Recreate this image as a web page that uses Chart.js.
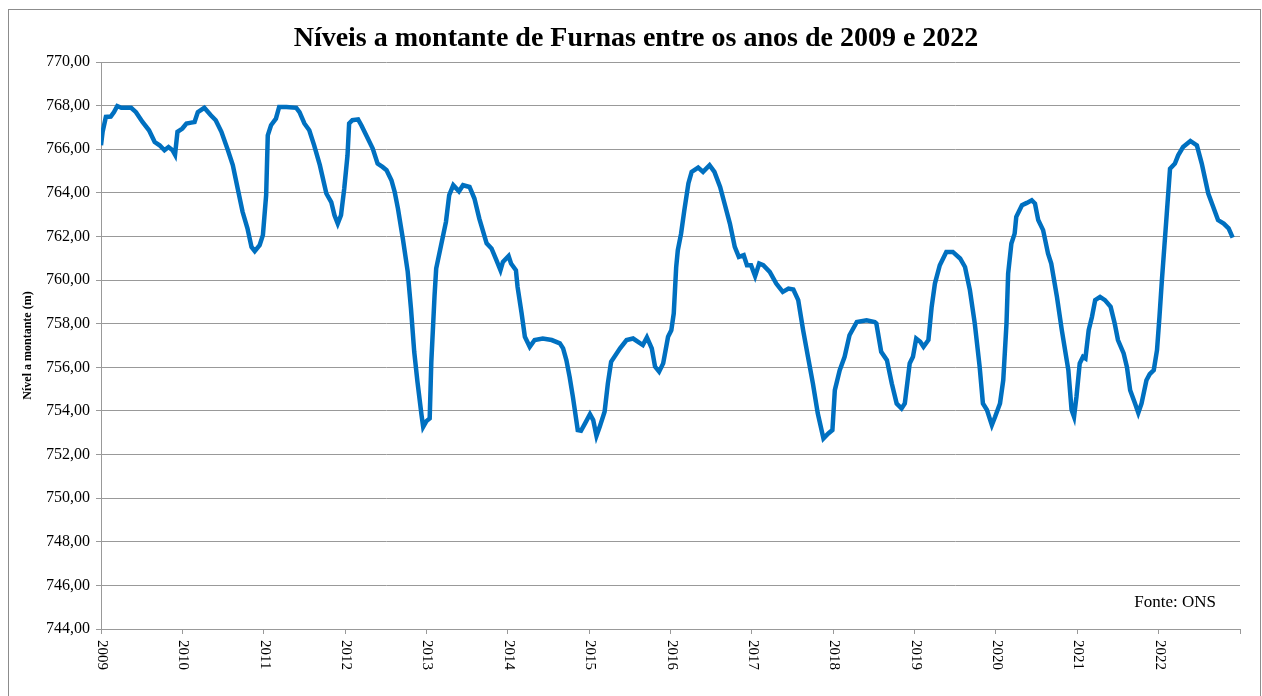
<!DOCTYPE html>
<html lang="pt">
<head>
    <meta charset="UTF-8">
    <title>Níveis a montante de Furnas</title>
    <script src="https://cdn.jsdelivr.net/npm/chart.js"></script>
    <style>
        body {
            margin: 0;
            padding: 0;
            background-color: #ffffff;
        }
        #caixa {
            width: 1262px;
            height: 696px;
        }
    </style>
</head>
<body>
    <div id="caixa"><canvas id="grafica"></canvas></div>

    <script>
        // Anos (decimais) e níveis
        const anos = [
            2009.00, 2009.02, 2009.06, 2009.12, 2009.16, 2009.20, 2009.25, 2009.37, 2009.43, 2009.51,
            2009.59, 2009.66, 2009.72, 2009.78, 2009.83, 2009.88, 2009.91, 2009.94, 2010.00, 2010.05,
            2010.11, 2010.15, 2010.19, 2010.27, 2010.35, 2010.41, 2010.48, 2010.56, 2010.62, 2010.68,
            2010.74, 2010.80, 2010.85, 2010.89, 2010.95, 2010.99, 2011.03, 2011.05, 2011.09, 2011.15,
            2011.19, 2011.28, 2011.40, 2011.44, 2011.50, 2011.56, 2011.62, 2011.69, 2011.77, 2011.83,
            2011.87, 2011.91, 2011.95, 2011.99, 2012.03, 2012.05, 2012.09, 2012.16, 2012.20, 2012.26,
            2012.34, 2012.40, 2012.46, 2012.51, 2012.57, 2012.61, 2012.65, 2012.71, 2012.77, 2012.81,
            2012.85, 2012.89, 2012.94, 2012.96, 2013.00, 2013.04, 2013.06, 2013.10, 2013.12, 2013.18,
            2013.24, 2013.28, 2013.33, 2013.40, 2013.45, 2013.53, 2013.59, 2013.65, 2013.74, 2013.80,
            2013.86, 2013.91, 2013.94, 2014.01, 2014.04, 2014.10, 2014.12, 2014.17, 2014.21, 2014.27,
            2014.33, 2014.43, 2014.54, 2014.64, 2014.68, 2014.72, 2014.76, 2014.80, 2014.86, 2014.90,
            2014.95, 2015.01, 2015.05, 2015.09, 2015.13, 2015.19, 2015.23, 2015.27, 2015.38, 2015.46,
            2015.54, 2015.66, 2015.71, 2015.77, 2015.81, 2015.86, 2015.91, 2015.97, 2016.01, 2016.04,
            2016.07, 2016.09, 2016.13, 2016.17, 2016.22, 2016.26, 2016.34, 2016.40, 2016.48, 2016.54,
            2016.61, 2016.67, 2016.73, 2016.79, 2016.84, 2016.90, 2016.94, 2016.99, 2017.04, 2017.09,
            2017.14, 2017.22, 2017.30, 2017.38, 2017.45, 2017.51, 2017.57, 2017.63, 2017.69, 2017.75,
            2017.81, 2017.88, 2017.94, 2017.99, 2018.02, 2018.08, 2018.14, 2018.20, 2018.29, 2018.41,
            2018.51, 2018.53, 2018.59, 2018.66, 2018.72, 2018.78, 2018.84, 2018.88, 2018.94, 2018.98,
            2019.02, 2019.07, 2019.11, 2019.17, 2019.21, 2019.25, 2019.31, 2019.39, 2019.47, 2019.56,
            2019.62, 2019.68, 2019.74, 2019.80, 2019.84, 2019.89, 2019.95, 2019.99, 2020.05, 2020.09,
            2020.13, 2020.15, 2020.19, 2020.23, 2020.25, 2020.32, 2020.38, 2020.44, 2020.48, 2020.52,
            2020.58, 2020.64, 2020.68, 2020.75, 2020.81, 2020.87, 2020.89, 2020.93, 2020.96, 2020.99,
            2021.03, 2021.07, 2021.10, 2021.14, 2021.18, 2021.22, 2021.28, 2021.34, 2021.41, 2021.46,
            2021.50, 2021.57, 2021.61, 2021.65, 2021.71, 2021.75, 2021.79, 2021.85, 2021.89, 2021.94,
            2021.98, 2022.01, 2022.04, 2022.07, 2022.10, 2022.14, 2022.20, 2022.24, 2022.30, 2022.39,
            2022.47, 2022.53, 2022.61, 2022.67, 2022.73, 2022.80, 2022.86, 2022.91
        ];

        const niveis = [
            766.18, 766.80, 767.48, 767.50, 767.70, 767.98, 767.90, 767.90, 767.70, 767.25,
            766.87, 766.33, 766.18, 765.95, 766.10, 765.95, 765.75, 766.80, 766.95, 767.18,
            767.22, 767.25, 767.70, 767.90, 767.56, 767.33, 766.80, 765.95, 765.27, 764.20,
            763.13, 762.37, 761.52, 761.33, 761.60, 762.06, 763.90, 766.64, 767.10, 767.40,
            767.94, 767.94, 767.90, 767.70, 767.18, 766.87, 766.18, 765.27, 763.97, 763.58,
            762.97, 762.59, 762.97, 764.20, 765.72, 767.18, 767.33, 767.37, 767.10, 766.64,
            766.03, 765.34, 765.19, 765.04, 764.58, 764.04, 763.28, 761.90, 760.38, 758.70,
            756.71, 755.33, 753.80, 753.27, 753.53, 753.66, 756.25, 759.30, 760.53, 761.60,
            762.67, 763.90, 764.35, 764.07, 764.35, 764.27, 763.74, 762.82, 761.68, 761.45,
            760.91, 760.45, 760.83, 761.10, 760.76, 760.45, 759.69, 758.47, 757.40, 756.94,
            757.25, 757.32, 757.25, 757.10, 756.87, 756.33, 755.56, 754.65, 753.12, 753.09,
            753.43, 753.85, 753.58, 752.85, 753.27, 753.96, 755.26, 756.25, 756.87, 757.25,
            757.32, 757.02, 757.37, 756.87, 756.03, 755.80, 756.18, 757.40, 757.70, 758.47,
            760.60, 761.37, 762.13, 763.20, 764.43, 764.96, 765.16, 764.96, 765.27, 764.96,
            764.27, 763.43, 762.59, 761.52, 761.06, 761.14, 760.68, 760.68, 760.18, 760.76,
            760.68, 760.38, 759.84, 759.46, 759.61, 759.57, 759.08, 757.70, 756.48, 755.26,
            753.89, 752.74, 752.97, 753.12, 754.95, 755.87, 756.48, 757.47, 758.08, 758.16,
            758.08, 758.01, 756.71, 756.33, 755.26, 754.34, 754.11, 754.34, 756.18, 756.48,
            757.32, 757.17, 756.94, 757.25, 758.77, 759.84, 760.68, 761.29, 761.29, 760.99,
            760.60, 759.54, 758.01, 756.02, 754.34, 754.04, 753.35, 753.73, 754.34, 755.41,
            758.01, 760.30, 761.68, 762.13, 762.90, 763.43, 763.54, 763.66, 763.51, 762.75,
            762.29, 761.22, 760.76, 759.23, 757.70, 756.33, 755.87, 754.04, 753.73, 754.65,
            756.18, 756.48, 756.41, 757.70, 758.31, 759.08, 759.23, 759.08, 758.77, 758.01,
            757.25, 756.64, 756.02, 754.95, 754.34, 753.91, 754.34, 755.41, 755.69, 755.87,
            756.79, 758.31, 760.00, 761.52, 763.05, 765.11, 765.34, 765.72, 766.10, 766.38,
            766.18, 765.34, 763.97, 763.36, 762.75, 762.59, 762.37, 761.95
        ];

        // Rótulos do eixo x
        const rotulosAnos = [2009, 2010, 2011, 2012, 2013, 2014, 2015, 2016, 2017, 2018, 2019, 2020, 2021, 2022];

        const fonte = 'Liberation Serif, Times New Roman, serif';
        const cinza = '#999999';

        // Moldura, rótulos verticais dos anos e nota da fonte
        const extras = {
            id: 'extras',
            beforeDraw(chart) {
                const ctx = chart.ctx;
                ctx.save();
                ctx.fillStyle = '#ffffff';
                ctx.fillRect(0, 0, chart.width, chart.height);
                ctx.strokeStyle = '#8c8c8c';
                ctx.lineWidth = 1;
                ctx.strokeRect(8.5, 9.5, 1252, 700);
                ctx.restore();
            },
            afterDraw(chart) {
                const ctx = chart.ctx;
                const eixoX = chart.scales.x;
                const area = chart.chartArea;
                ctx.save();
                ctx.fillStyle = '#000000';
                ctx.font = '15px ' + fonte;
                ctx.textAlign = 'left';
                ctx.textBaseline = 'middle';
                rotulosAnos.forEach(ano => {
                    const x = eixoX.getPixelForValue(ano);
                    ctx.save();
                    ctx.translate(x + 1, area.bottom + 11);
                    ctx.rotate(Math.PI / 2);
                    ctx.fillText(String(ano), 0, 0);
                    ctx.restore();
                });
                ctx.font = '17px ' + fonte;
                ctx.textAlign = 'right';
                ctx.fillText('Fonte: ONS', area.right - 24, 603);
                ctx.restore();
            }
        };

        const pontos = anos.map((a, i) => ({ x: a, y: niveis[i] }));

        new Chart(document.getElementById('grafica'), {
            type: 'line',
            data: {
                datasets: [{
                    label: 'Nível a montante',
                    data: pontos,
                    borderColor: '#0070C0',
                    borderWidth: 4.5,
                    pointRadius: 0,
                    tension: 0,
                    fill: false
                }]
            },
            options: {
                responsive: true,
                maintainAspectRatio: false,
                animation: false,
                layout: {
                    padding: { left: 32, right: 22, top: 0, bottom: 0 }
                },
                plugins: {
                    legend: { display: false },
                    tooltip: { enabled: false },
                    title: {
                        display: true,
                        text: 'Níveis a montante de Furnas entre os anos de 2009 e 2022',
                        color: '#000000',
                        font: { family: fonte, size: 28, weight: 'bold', lineHeight: 1.2 },
                        padding: { top: 22, bottom: 6.4 }
                    }
                },
                scales: {
                    x: {
                        type: 'linear',
                        min: 2009,
                        max: 2023,
                        ticks: { stepSize: 1, display: false },
                        grid: { drawOnChartArea: false, drawTicks: true, tickLength: 5, color: cinza },
                        border: { color: cinza },
                        afterFit(scale) { scale.height = 67; }
                    },
                    y: {
                        min: 744,
                        max: 770,
                        ticks: {
                            stepSize: 2,
                            color: '#000000',
                            padding: 6,
                            font: { family: fonte, size: 16 },
                            callback: v => v.toFixed(2).replace('.', ',')
                        },
                        grid: { color: cinza, tickLength: 5 },
                        border: { color: cinza },
                        title: {
                            display: true,
                            text: 'Nível a montante (m)',
                            color: '#000000',
                            font: { family: fonte, size: 12, weight: 'bold', lineHeight: 1.2 },
                            padding: { top: -11, bottom: 0 }
                        },
                        afterFit(scale) { scale.width = 69; }
                    }
                }
            },
            plugins: [extras]
        });
    </script>
</body>
</html>
